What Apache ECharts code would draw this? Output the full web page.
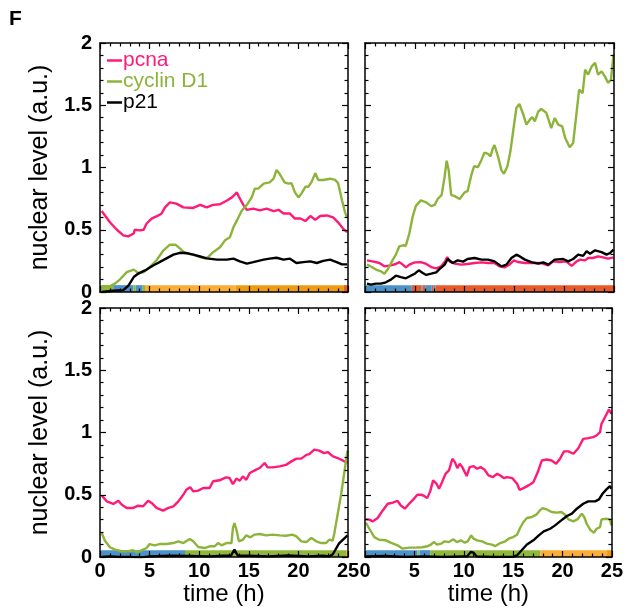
<!DOCTYPE html>
<html>
<head>
<meta charset="utf-8">
<script src="https://cdn.jsdelivr.net/npm/echarts@6/dist/echarts.min.js"></script>
<style>
html,body{margin:0;padding:0;background:#fff;}
#c{width:626px;height:609px;}
</style>
</head>
<body>
<div id="c"></div>
<script>
// ---------------- DATA ----------------
const seriesNames = ['pcna', 'cyclin D1', 'p21'];
const xTicks = [0, 5, 10, 15, 20, 25];
const yTicks = [0, 0.5, 1, 1.5, 2];
const phaseNames = ['blue', 'green', 'lightorange', 'darkorange', 'red'];

// Panel 1 (top-left)
const pcna1 = [[0.17,0.65],[1.0,0.56],[1.7,0.50],[2.35,0.455],[2.85,0.447],[3.4,0.47],[3.5,0.50],[4.0,0.495],[4.4,0.50],[4.7,0.55],[5.2,0.59],[5.9,0.615],[6.2,0.63],[6.55,0.68],[7.05,0.72],[7.7,0.71],[8.4,0.68],[9.4,0.675],[10.1,0.70],[10.75,0.68],[11.4,0.70],[12.1,0.705],[12.8,0.735],[13.3,0.76],[13.8,0.80],[14.0,0.765],[14.45,0.70],[14.8,0.66],[15.45,0.67],[16.1,0.655],[16.8,0.67],[17.5,0.65],[18.0,0.66],[18.5,0.63],[19.15,0.63],[19.65,0.59],[20.2,0.59],[20.7,0.57],[21.2,0.61],[21.7,0.58],[22.2,0.61],[22.85,0.615],[23.5,0.60],[24.0,0.56],[24.5,0.51],[24.9,0.48]];
const cyclin1 = [[0.17,0.045],[1.0,0.045],[1.5,0.067],[2.0,0.10],[2.7,0.16],[3.4,0.18],[3.9,0.15],[4.4,0.16],[5.0,0.20],[5.7,0.255],[6.4,0.335],[7.05,0.38],[7.6,0.38],[8.05,0.35],[8.6,0.31],[9.4,0.30],[10.1,0.28],[10.6,0.27],[10.9,0.28],[11.4,0.32],[12.1,0.36],[12.6,0.415],[13.1,0.44],[13.45,0.52],[13.8,0.575],[14.3,0.655],[14.8,0.70],[15.3,0.76],[15.6,0.83],[15.95,0.83],[16.5,0.87],[17.1,0.88],[17.5,0.91],[17.8,0.98],[18.1,0.95],[18.6,0.88],[19.0,0.87],[19.3,0.875],[19.65,0.80],[20.0,0.76],[20.3,0.79],[20.7,0.845],[21.0,0.845],[21.3,0.88],[21.7,0.955],[22.0,0.90],[22.5,0.90],[23.2,0.91],[23.7,0.90],[24.0,0.875],[24.4,0.735],[24.7,0.64],[24.9,0.60]];
const p21_1 = [[0.17,0.0],[1.3,0.01],[2.35,0.015],[2.85,0.05],[3.4,0.12],[3.9,0.15],[4.7,0.18],[5.4,0.215],[6.0,0.24],[6.7,0.27],[7.4,0.30],[8.05,0.315],[8.7,0.313],[9.4,0.30],[10.1,0.285],[10.75,0.27],[11.8,0.26],[12.8,0.26],[13.45,0.268],[14.1,0.246],[14.8,0.228],[15.45,0.24],[16.5,0.26],[17.1,0.268],[17.8,0.275],[18.5,0.26],[19.15,0.268],[19.8,0.233],[20.5,0.24],[21.2,0.246],[21.85,0.233],[22.5,0.25],[23.2,0.26],[23.85,0.24],[24.4,0.222],[24.9,0.222]];
const phases1 = [[0.1,1.34,1],[1.34,3.36,0],[3.36,3.6,1],[3.6,4.3,0],[4.3,4.54,1],[4.54,13.68,2],[13.68,24.6,3],[24.6,25,4]];

// Panel 2 (top-right)
const pcna2 = [[0.2,0.254],[0.77,0.246],[1.45,0.233],[1.95,0.206],[2.6,0.214],[3.1,0.225],[3.45,0.24],[3.8,0.22],[4.1,0.198],[4.45,0.22],[5.0,0.238],[5.6,0.24],[6.15,0.225],[6.65,0.20],[7.15,0.19],[7.65,0.206],[8.05,0.246],[8.25,0.281],[8.5,0.246],[9.0,0.228],[9.65,0.22],[10.3,0.225],[11.0,0.233],[11.7,0.238],[12.35,0.233],[13.0,0.233],[13.5,0.206],[14.0,0.198],[14.5,0.22],[14.95,0.254],[15.35,0.241],[16.05,0.233],[16.7,0.233],[17.7,0.233],[18.4,0.214],[18.9,0.246],[19.55,0.24],[20.2,0.246],[20.75,0.21],[21.25,0.246],[21.6,0.26],[22.1,0.254],[22.4,0.273],[22.9,0.273],[23.4,0.286],[23.9,0.278],[24.4,0.268],[24.95,0.278]];
const cyclin2 = [[0.2,0.22],[0.6,0.205],[1.1,0.18],[1.6,0.166],[1.95,0.147],[2.3,0.185],[2.8,0.26],[3.1,0.30],[3.45,0.367],[3.8,0.375],[4.1,0.372],[4.45,0.47],[4.8,0.61],[5.1,0.69],[5.6,0.736],[6.15,0.72],[6.65,0.69],[7.0,0.70],[7.3,0.747],[7.7,0.78],[8.0,0.93],[8.2,1.055],[8.4,0.98],[8.65,0.78],[9.0,0.77],[9.5,0.747],[10.0,0.80],[10.3,0.81],[10.65,0.93],[10.95,1.01],[11.35,1.004],[11.7,1.063],[12.0,1.12],[12.35,1.11],[12.6,1.09],[12.85,1.157],[13.0,1.18],[13.35,1.09],[13.7,0.977],[13.95,0.95],[14.3,1.01],[14.6,1.13],[14.85,1.277],[15.2,1.478],[15.5,1.51],[15.9,1.424],[16.2,1.344],[16.55,1.384],[16.8,1.405],[17.05,1.37],[17.4,1.45],[17.7,1.47],[18.2,1.44],[18.7,1.317],[19.05,1.398],[19.4,1.344],[19.8,1.33],[20.1,1.237],[20.55,1.162],[20.9,1.197],[21.2,1.41],[21.5,1.625],[21.85,1.598],[22.1,1.786],[22.4,1.746],[22.75,1.81],[23.1,1.84],[23.4,1.746],[23.75,1.772],[24.1,1.73],[24.4,1.68],[24.7,1.705],[24.95,1.906]];
const p21_2 = [[0.2,0.067],[0.6,0.059],[1.1,0.067],[1.6,0.067],[2.1,0.078],[2.6,0.099],[3.1,0.131],[3.6,0.12],[4.1,0.11],[4.6,0.131],[5.0,0.147],[5.4,0.174],[5.8,0.153],[6.15,0.137],[6.65,0.147],[7.15,0.158],[7.6,0.193],[8.0,0.22],[8.3,0.265],[8.8,0.233],[9.3,0.254],[9.85,0.244],[10.3,0.265],[11.0,0.273],[11.7,0.26],[12.35,0.26],[13.0,0.246],[13.7,0.206],[14.2,0.22],[14.7,0.273],[15.2,0.30],[15.55,0.286],[16.05,0.26],[16.7,0.24],[17.4,0.228],[17.9,0.238],[18.4,0.22],[19.05,0.26],[19.9,0.265],[20.4,0.246],[20.9,0.265],[21.4,0.30],[21.9,0.29],[22.25,0.327],[22.6,0.308],[23.1,0.335],[23.75,0.32],[24.25,0.30],[24.6,0.313],[24.95,0.34]];
const phases2 = [[0.1,4.7,0],[4.7,5.65,4],[5.65,5.8,0],[5.8,6.05,4],[6.05,6.7,0],[6.7,6.9,4],[6.9,7.1,0],[7.1,25,4]];

// Panel 3 (bottom-left)
const pcna3 = [[0.17,0.495],[0.67,0.447],[1.34,0.426],[1.85,0.452],[2.2,0.42],[2.7,0.394],[3.35,0.394],[3.85,0.412],[4.35,0.407],[4.85,0.452],[5.2,0.434],[5.7,0.394],[6.35,0.372],[6.9,0.394],[7.4,0.407],[7.9,0.447],[8.4,0.50],[8.7,0.54],[9.1,0.56],[9.4,0.527],[9.9,0.533],[10.4,0.554],[11.05,0.554],[11.4,0.608],[12.05,0.616],[12.7,0.64],[13.05,0.635],[13.4,0.586],[13.75,0.63],[14.1,0.613],[14.4,0.648],[14.75,0.62],[15.1,0.675],[15.6,0.696],[16.1,0.715],[16.6,0.755],[16.9,0.72],[17.4,0.72],[18.1,0.728],[18.75,0.74],[19.3,0.768],[19.8,0.79],[20.3,0.79],[20.8,0.82],[21.1,0.827],[21.6,0.862],[22.1,0.854],[22.6,0.835],[22.95,0.843],[23.45,0.81],[23.95,0.795],[24.45,0.776],[24.95,0.755]];
const cyclin3 = [[0.17,0.193],[0.5,0.131],[1.0,0.078],[1.5,0.059],[2.2,0.046],[2.85,0.046],[3.35,0.054],[3.7,0.037],[4.35,0.059],[4.7,0.072],[5.0,0.104],[5.5,0.094],[6.0,0.104],[6.7,0.104],[7.4,0.112],[7.9,0.126],[8.4,0.112],[9.05,0.145],[9.4,0.126],[9.9,0.08],[10.55,0.072],[11.05,0.086],[11.55,0.086],[11.9,0.112],[12.25,0.094],[12.75,0.112],[13.25,0.112],[13.4,0.233],[13.55,0.273],[13.75,0.22],[14.0,0.126],[14.4,0.139],[14.75,0.174],[15.15,0.158],[15.6,0.18],[16.1,0.185],[16.75,0.174],[17.4,0.18],[18.1,0.174],[18.75,0.171],[19.4,0.18],[19.8,0.166],[20.3,0.126],[20.8,0.12],[21.3,0.153],[21.8,0.126],[22.3,0.112],[22.8,0.112],[23.1,0.139],[23.45,0.131],[23.6,0.18],[24.3,0.50],[24.95,0.854]];
const p21_3 = [[0.17,0.0],[1.0,0.005],[2.0,0.0],[3.0,0.0],[4.0,-0.005],[5.0,0.005],[7.0,0.01],[9.0,0.008],[11.0,0.005],[12.5,0.01],[13.2,0.01],[13.55,0.059],[13.9,0.01],[15.0,0.01],[17.0,0.005],[19.0,0.012],[21.0,0.005],[22.5,0.01],[23.1,0.005],[23.45,0.02],[24.1,0.11],[24.95,0.174]];
const phases3 = [[0.1,8.57,0],[8.57,24.8,1],[24.8,25,2]];

// Panel 4 (bottom-right)
const pcna4 = [[0.1,0.302],[0.44,0.30],[0.77,0.286],[1.28,0.313],[1.8,0.374],[2.3,0.428],[2.8,0.436],[3.3,0.45],[3.63,0.414],[4.03,0.388],[4.47,0.428],[4.9,0.463],[5.3,0.50],[5.65,0.50],[6.0,0.49],[6.3,0.473],[6.6,0.527],[6.9,0.615],[7.25,0.588],[7.5,0.548],[7.8,0.60],[8.15,0.668],[8.5,0.695],[8.85,0.789],[9.1,0.762],[9.35,0.714],[9.6,0.749],[9.85,0.722],[10.3,0.65],[10.6,0.722],[11.0,0.73],[11.35,0.709],[11.7,0.722],[12.1,0.703],[12.5,0.655],[12.95,0.642],[13.4,0.668],[13.7,0.655],[14.05,0.634],[14.4,0.642],[14.9,0.634],[15.1,0.647],[15.4,0.588],[15.65,0.54],[16.05,0.553],[16.55,0.575],[17.05,0.60],[17.5,0.682],[17.9,0.775],[18.4,0.783],[18.9,0.775],[19.35,0.749],[19.75,0.789],[20.15,0.848],[20.6,0.848],[21.1,0.829],[21.6,0.874],[22.1,0.949],[22.6,0.955],[23.1,0.963],[23.45,0.976],[23.8,1.003],[23.95,1.07],[24.3,1.123],[24.7,1.185],[24.95,1.15]];
const cyclin4 = [[0.1,0.275],[0.44,0.227],[0.94,0.16],[1.44,0.139],[2.1,0.134],[2.6,0.115],[3.3,0.094],[3.8,0.067],[4.47,0.075],[5.15,0.075],[5.8,0.078],[6.3,0.086],[6.65,0.099],[7.0,0.12],[7.3,0.099],[7.7,0.107],[8.05,0.126],[8.5,0.12],[8.95,0.142],[9.3,0.12],[9.7,0.134],[10.1,0.115],[10.4,0.126],[10.75,0.174],[11.0,0.147],[11.35,0.134],[11.85,0.126],[12.35,0.107],[12.85,0.099],[13.2,0.088],[13.7,0.112],[14.2,0.126],[14.55,0.147],[15.0,0.16],[15.4,0.179],[15.7,0.233],[16.05,0.281],[16.4,0.313],[16.9,0.321],[17.35,0.34],[17.7,0.374],[18.0,0.393],[18.4,0.382],[18.9,0.361],[19.4,0.356],[19.9,0.361],[20.25,0.34],[20.6,0.302],[21.1,0.286],[21.5,0.302],[21.95,0.348],[22.2,0.321],[22.45,0.267],[22.85,0.214],[23.2,0.195],[23.45,0.227],[23.8,0.24],[23.95,0.302],[24.45,0.307],[24.8,0.302],[24.95,0.254]];
const p21_4 = [[0.1,0.005],[2.0,0.008],[4.0,0.0],[6.0,0.005],[8.0,0.0],[10.0,0.005],[10.35,0.005],[10.7,0.04],[11.0,0.035],[11.3,0.005],[13.0,0.0],[15.0,0.002],[15.4,0.013],[15.7,0.04],[16.4,0.1],[17.05,0.134],[17.6,0.174],[18.1,0.206],[18.75,0.227],[19.25,0.254],[19.75,0.286],[20.45,0.329],[20.95,0.348],[21.45,0.388],[22.1,0.428],[22.6,0.447],[23.3,0.447],[23.7,0.463],[24.05,0.508],[24.45,0.543],[24.8,0.57],[24.95,0.548]];
const phases4 = [[0.1,5.3,0],[5.3,5.4,1],[5.4,5.5,0],[5.5,5.55,1],[5.55,6.6,0],[6.6,17.75,1],[17.75,24.45,2],[24.45,25,3]];

// ---------------- STYLE ----------------
const lineColors = ['#ff1a78', '#8db43a', '#000000'];
const phaseColors = ['#4b92c8', '#8fb83a', '#fcad37', '#ee9b12', '#e85a2a'];
const STRIP_H = 0.055;
const FONT = '"Liberation Sans", Arial, sans-serif';

const panels = [
  {grid:{left:100, top:43, width:248, height:249}, lines:[pcna1, cyclin1, p21_1], phases:phases1, xLab:false, yLab:true},
  {grid:{left:365, top:43, width:249, height:249}, lines:[pcna2, cyclin2, p21_2], phases:phases2, xLab:false, yLab:false},
  {grid:{left:100, top:308, width:248, height:249}, lines:[pcna3, cyclin3, p21_3], phases:phases3, xLab:true, yLab:true},
  {grid:{left:365, top:308, width:249, height:249}, lines:[pcna4, cyclin4, p21_4], phases:phases4, xLab:true, yLab:false}
];

const grid = [], xAxis = [], yAxis = [], series = [];
const axisLine = {show:true, onZero:false, lineStyle:{color:'#000', width:1.5}};
const axisTick = {show:true, inside:true, length:6, lineStyle:{color:'#000', width:1.2}};
const minorTick = {show:true, splitNumber:5, length:3.5, lineStyle:{color:'#000', width:1.2}};
const labelStyle = {fontFamily:FONT, fontWeight:'bold', fontSize:20, color:'#000'};

panels.forEach((p, i) => {
  grid.push(Object.assign({containLabel:false}, p.grid));
  const xBase = {gridIndex:i, type:'value', min:xTicks[0], max:xTicks[xTicks.length-1], interval:xTicks[1]-xTicks[0],
    axisLine, axisTick, minorTick, splitLine:{show:false}, minorSplitLine:{show:false}, z:10};
  const yBase = {gridIndex:i, type:'value', min:yTicks[0], max:yTicks[yTicks.length-1], interval:yTicks[1]-yTicks[0],
    axisLine, axisTick, minorTick, splitLine:{show:false}, minorSplitLine:{show:false}, z:10};
  xAxis.push(Object.assign({}, xBase, {position:'bottom',
    axisLabel: p.xLab ? Object.assign({show:true, margin:4, formatter: v => String(v)}, labelStyle) : {show:false},
    name: p.xLab ? 'time (h)' : '', nameLocation:'middle', nameGap:16,
    nameTextStyle:{fontFamily:FONT, fontSize:24, color:'#000'}}));
  xAxis.push(Object.assign({}, xBase, {position:'top', axisLabel:{show:false}}));
  yAxis.push(Object.assign({}, yBase, {position:'left',
    axisLabel: p.yLab ? Object.assign({show:true, margin:8, formatter: v => String(v)}, labelStyle) : {show:false},
    name: p.yLab ? 'nuclear level (a.u.)' : '', nameLocation:'middle', nameGap:47,
    nameTextStyle:{fontFamily:FONT, fontSize:25, color:'#000'}}));
  yAxis.push(Object.assign({}, yBase, {position:'right', axisLabel:{show:false}}));

  series.push({
    type:'custom', xAxisIndex:2*i, yAxisIndex:2*i, z:1, silent:true,
    data: p.phases, encode:{x:[0,1]}, clip:true,
    renderItem: (params, api) => {
      const a = api.coord([api.value(0), 0]);
      const b = api.coord([api.value(1), STRIP_H]);
      return {type:'rect', shape:{x:a[0], y:b[1], width:b[0]-a[0], height:a[1]-b[1]},
        style:{fill: phaseColors[api.value(2)]}};
    }
  });
  p.lines.forEach((d, k) => {
    series.push({
      type:'line', name:seriesNames[k], xAxisIndex:2*i, yAxisIndex:2*i, z:2+k,
      data:d, showSymbol:false, symbol:'none', smooth:false, clip:true,
      lineStyle:{color:lineColors[k], width:2.4}, itemStyle:{color:lineColors[k]}
    });
  });
});

const chart = echarts.init(document.getElementById('c'), null, {renderer:'canvas'});
chart.setOption({
  animation:false,
  backgroundColor:'#fff',
  grid, xAxis, yAxis, series,
  legend:{
    orient:'vertical', left:107, top:50, padding:0, itemGap:0,
    itemWidth:15, itemHeight:2.5, icon:'rect', selectedMode:false,
    data: seriesNames.map((n, k) => ({name:n, textStyle:{color:lineColors[k]}})),
    textStyle:{fontFamily:FONT, fontSize:21, lineHeight:20, padding:[0,0,0,-4]}
  },
  graphic:[{type:'text', left:9, top:9, style:{text:'F', font:'bold 21px ' + FONT, fill:'#000'}}]
});
</script>
</body>
</html>
